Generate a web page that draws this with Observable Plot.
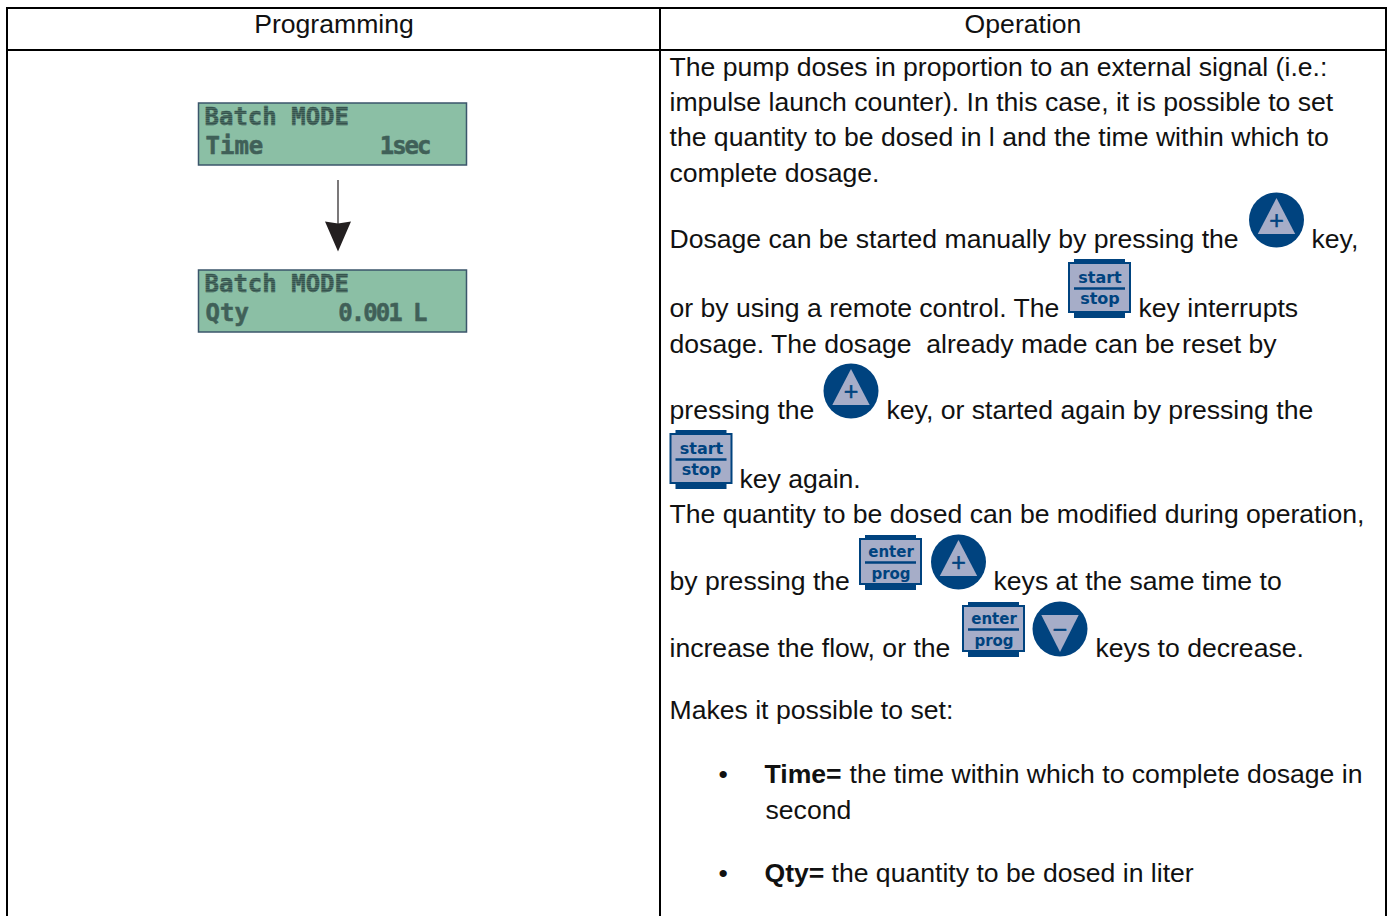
<!DOCTYPE html>
<html><head><meta charset="utf-8">
<script src="https://cdn.jsdelivr.net/npm/d3@7"></script>
<script src="https://cdn.jsdelivr.net/npm/@observablehq/plot@0.6"></script>
<style>
html,body{margin:0;padding:0;background:#fff;overflow:hidden}
svg{display:block;background:#fff}
svg text{white-space:pre}
</style></head><body><div id="chart"></div>
<script>
// ---- content ----
const headers = ["Programming", "Operation"];
const operationLines = [
 "The pump doses in proportion to an external signal (i.e.:",
 "impulse launch counter). In this case, it is possible to set",
 "the quantity to be dosed in l and the time within which to",
 "complete dosage.",
 "Dosage can be started manually by pressing the",
 "key,",
 "or by using a remote control. The",
 "key interrupts",
 "dosage. The dosage  already made can be reset by",
 "pressing the",
 "key, or started again by pressing the",
 "key again.",
 "The quantity to be dosed can be modified during operation,",
 "by pressing the",
 "keys at the same time to",
 "increase the flow, or the",
 "keys to decrease.",
 "Makes it possible to set:",
 "•",
 "the time within which to complete dosage in",
 "second",
 "•",
 "the quantity to be dosed in liter"
];
const boldTerms = ["Time=", "Qty="];
const lcdTop = ["Batch MODE", "Batch MODE"];
const lcdLabels = ["Time", "Qty"];
const lcdValues = ["1sec", "0.001 L"];
const keyTop = ["start", "start", "enter", "enter"];
const keyBottom = ["stop", "stop", "prog", "prog"];
const roundSigns = ["+", "+", "+", "−"];

// ---- layout (page pixels) ----
const lineX = [669,669,669,669,669,1311,669,1138,669,669,886,739,669,669,993,669,1095,669,718,849,765,718,831];
const lineY = [75,110,145,181,247,247,316,316,352,418,418,487,522,589,589,656,656,718,782,782,818,881,881];
const boldX = [764,764], boldY = [782,881];
const lcdBox = [[198.5,103,466.5,165],[198.5,270,466.5,332]];
const keyBox = [[1068,259,59,29],[669.5,430,59,29],[859,535,55,27],[962,602,55,27]];
const keyWordY = [[23,44],[23,44],[21,43],[21,43]];
const keyFont = [16, 16, 15, 15];
const roundPos = [[1276,219.5],[850.5,390.5],[958,561.5],[1059.5,628.5]];

const idx = a => a.map((_, i) => i);
const W = 1391, H = 916;
const navy = "#00437f", pale = "#a6adc8", lcdGreen = "#8bbfa5", lcdEdge = "#3b566b", lcdInk = "url(#lcdDots)";
const sans = "Liberation Sans";
const textSize = 26.6;

const triSymbol = dir => ({draw(c){
  const top = dir > 0 ? -22 : 23, base = dir > 0 ? 14 : -14;
  c.moveTo(0, top); c.lineTo(18.7, base); c.lineTo(-18.7, base); c.closePath();
}});
const headSymbol = {draw(c){
  c.moveTo(-13, -15); c.lineTo(0, -13); c.lineTo(13, -15); c.lineTo(0, 15); c.closePath();
}};

const kb = keyBox;
const lcdText = {textAnchor: "start", lineAnchor: "bottom", fontFamily: "DejaVu Sans Mono", fontWeight: "bold", fontSize: 24, fill: lcdInk, stroke: lcdInk, strokeWidth: 0.5};
const marks = [
  // table grid
  Plot.ruleY([7.5, 49.5], {x1: 6, x2: 1387, y: d => d, stroke: "#000", strokeWidth: 2}),
  Plot.ruleX([6.5, 659.5, 1385.5], {x: d => d, y1: 7, y2: 916, stroke: "#000", strokeWidth: 2}),
  // headers
  Plot.text(idx(headers), {x: i => [333.5, 1022.5][i], y: 32, text: i => headers[i], textAnchor: "middle", lineAnchor: "bottom", fontFamily: sans, fontSize: textSize, fill: "#111"}),
  // paragraph text
  Plot.text(idx(operationLines), {x: i => lineX[i], y: i => lineY[i], text: i => operationLines[i], textAnchor: "start", lineAnchor: "bottom", fontFamily: sans, fontSize: textSize, fill: "#111"}),
  Plot.text(idx(boldTerms), {x: i => boldX[i], y: i => boldY[i], text: i => boldTerms[i], textAnchor: "start", lineAnchor: "bottom", fontFamily: sans, fontSize: textSize, fontWeight: "bold", fill: "#111"}),
  // LCD panels
  Plot.rect(idx(lcdBox), {x1: i => lcdBox[i][0], y1: i => lcdBox[i][1], x2: i => lcdBox[i][2], y2: i => lcdBox[i][3], fill: lcdGreen, stroke: lcdEdge, strokeWidth: 1.5}),
  Plot.text(idx(lcdTop), {...lcdText, x: 204, y: i => lcdBox[i][1] + 21.5, text: i => lcdTop[i]}),
  Plot.text(idx(lcdLabels), {...lcdText, x: 205, y: i => lcdBox[i][1] + 50, text: i => lcdLabels[i]}),
  Plot.text(idx(lcdValues), {...lcdText, textAnchor: "end", x: i => [429, 425][i], y: i => lcdBox[i][1] + 50, text: i => lcdValues[i]}),
  // arrow
  Plot.ruleX([337.5], {x: d => d, y1: 180, y2: 228, stroke: "#231f20", strokeWidth: 1.2}),
  Plot.dot([[337.5, 236]], {x: d => d[0], y: d => d[1], symbol: headSymbol, r: 10, fill: "#231f20", stroke: "none"}),
  // square keys
  Plot.rect(idx(kb), {x1: i => kb[i][0] + 6, x2: i => kb[i][0] + 57, y1: i => kb[i][1], y2: i => kb[i][1] + kb[i][2], fill: navy}),
  Plot.rect(idx(kb), {x1: i => kb[i][0] + 1, x2: i => kb[i][0] + 62, y1: i => kb[i][1] + 4, y2: i => kb[i][1] + kb[i][2] - 6, fill: pale, stroke: navy, strokeWidth: 2}),
  Plot.ruleY(idx(kb), {y: i => kb[i][1] + kb[i][3], x1: i => kb[i][0] + 6, x2: i => kb[i][0] + 57, stroke: navy, strokeWidth: 2.5}),
  Plot.text(idx(kb), {x: i => kb[i][0] + 31.5, y: i => kb[i][1] + keyWordY[i][0], text: i => keyTop[i], textAnchor: "middle", lineAnchor: "bottom", fontFamily: "DejaVu Sans", fontWeight: "bold", fontSize: i => keyFont[i], fill: navy}),
  Plot.text(idx(kb), {x: i => kb[i][0] + 31.5, y: i => kb[i][1] + keyWordY[i][1], text: i => keyBottom[i], textAnchor: "middle", lineAnchor: "bottom", fontFamily: "DejaVu Sans", fontWeight: "bold", fontSize: i => keyFont[i], fill: navy}),
  // round keys
  Plot.dot(idx(roundPos), {x: i => roundPos[i][0], y: i => roundPos[i][1], r: 27.5, fill: navy, stroke: "none"}),
  Plot.dot(idx(roundPos).filter(i => roundSigns[i] === "+"), {x: i => roundPos[i][0], y: i => roundPos[i][1], symbol: triSymbol(1), r: 10, fill: pale, stroke: "none"}),
  Plot.dot(idx(roundPos).filter(i => roundSigns[i] !== "+"), {x: i => roundPos[i][0], y: i => roundPos[i][1], symbol: triSymbol(-1), r: 10, fill: pale, stroke: "none"}),
  Plot.text(idx(roundPos), {x: i => roundPos[i][0], y: i => roundPos[i][1] + 8.5, text: i => roundSigns[i], textAnchor: "middle", lineAnchor: "bottom", fontFamily: sans, fontSize: 25, fill: navy, stroke: navy, strokeWidth: 0.5})
];

const chart = Plot.plot({
  width: W, height: H, margin: 0,
  x: {type: "identity", axis: null}, y: {type: "identity", axis: null},
  style: {background: "#fff", maxWidth: "none", height: H + "px"},
  marks
});
// dotted LCD ink: a 2px dot grid over a muted base
d3.select(chart).insert("defs", ":first-child").html(
  '<pattern id="lcdDots" width="2" height="2" patternUnits="userSpaceOnUse">' +
  '<rect width="2" height="2" fill="#5a7d70"/><rect width="1.4" height="1.4" fill="#24413f"/></pattern>');
// the LCD values are set tighter than the mono font's natural pitch
d3.select(chart).selectAll("text").filter(function () { return lcdValues.includes(this.textContent); }).style("letter-spacing", "-2px");
document.getElementById("chart").append(chart);
</script></body></html>
